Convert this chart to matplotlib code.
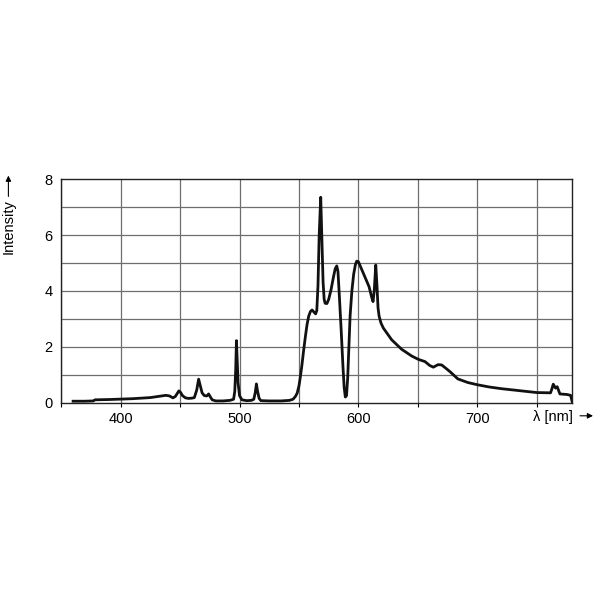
import numpy as np
import matplotlib.pyplot as plt

plt.rcParams['font.family'] = ['Liberation Sans', 'DejaVu Sans']

# spectrum (wavelength in nm, relative intensity)
wavelength = [360, 370, 377, 378.5, 390, 410, 425, 438, 441, 444, 446, 447.5, 449,
              450.5, 452, 454.5, 457, 460, 462, 464, 465.6, 467, 468.5, 470.4,
              472.5, 474, 475.5, 477, 480, 486, 492, 495, 496, 496.8, 497.4, 498,
              498.8, 500, 502, 506, 510, 512, 513.2, 514.2, 515.2, 516.5, 518, 525,
              535, 542, 545, 547, 548.5, 550, 551.2, 552.5, 554, 555.5, 556.8,
              558.2, 559.6, 561, 562.5, 564, 565, 566, 567, 568.3, 569.3, 570.3,
              571.2, 572, 573.5, 575, 577, 579, 580.5, 581.8, 582.8, 584, 585.5,
              587, 588, 589, 590, 591, 592, 593, 594.5, 596, 597.5, 598.6, 600,
              602, 606, 609, 611, 612.3, 613.3, 614.6, 615.6, 616.5, 617.4, 619,
              621, 628, 636.4, 644.8, 650.4, 656, 660, 663, 667, 670, 673, 677,
              683.6, 692, 700, 710, 720, 735, 750, 761.6, 762.8, 763.9, 765.8,
              767.2, 768.3, 769.5, 775.6, 778.5, 780]
intensity = [0.05, 0.05, 0.06, 0.1, 0.11, 0.14, 0.18, 0.26, 0.24, 0.17, 0.22, 0.32,
             0.42, 0.36, 0.25, 0.17, 0.15, 0.16, 0.18, 0.45, 0.84, 0.6, 0.35, 0.25,
             0.24, 0.31, 0.2, 0.1, 0.06, 0.06, 0.08, 0.12, 0.4, 1.2, 2.22, 1.6,
             0.7, 0.25, 0.1, 0.07, 0.08, 0.12, 0.35, 0.67, 0.4, 0.15, 0.07, 0.06,
             0.06, 0.08, 0.12, 0.22, 0.34, 0.6, 0.93, 1.35, 1.9, 2.4, 2.8, 3.1,
             3.26, 3.32, 3.25, 3.18, 3.3, 4.2, 6.0, 7.36, 5.8, 4.3, 3.7, 3.56,
             3.55, 3.7, 4.05, 4.5, 4.8, 4.9, 4.7, 3.8, 2.6, 1.3, 0.55, 0.2, 0.25,
             0.9, 2.0, 3.1, 4.0, 4.6, 4.95, 5.07, 5.05, 4.85, 4.45, 4.15, 3.8,
             3.62, 4.0, 4.93, 4.2, 3.4, 3.1, 2.85, 2.67, 2.25, 1.91, 1.67, 1.55,
             1.47, 1.33, 1.27, 1.36, 1.35, 1.25, 1.11, 0.85, 0.72, 0.64, 0.56,
             0.5, 0.43, 0.36, 0.35, 0.5, 0.66, 0.52, 0.57, 0.45, 0.31, 0.29, 0.26,
             0.0]

x_ticks = [400, 500, 600, 700]
x_grid = np.arange(350, 781, 50)
y_ticks = [0, 2, 4, 6, 8]

fig = plt.figure(figsize=(6, 6), dpi=100)
ax = fig.add_axes([0.102, 0.329, 0.852, 0.372])

ax.plot(wavelength, intensity, color='#111111', linewidth=2.0, zorder=3,
        solid_joinstyle='round')

ax.set_xlim(350, 780)
ax.set_ylim(0, 8)

# grid every 50 nm and every 1 unit
for gx in x_grid:
    ax.axvline(gx, color='#6e6e6e', linewidth=0.9, zorder=1)
for gy in range(1, 8):
    ax.axhline(gy, color='#6e6e6e', linewidth=0.9, zorder=1)

ax.set_xticks(x_grid)
ax.set_xticklabels([str(v) if v in x_ticks else '' for v in x_grid])
ax.set_yticks(y_ticks)
ax.tick_params(axis='x', direction='out', length=3, width=0.8, labelsize=10.5, pad=4)
ax.tick_params(axis='y', length=0, labelsize=10.5, pad=6)
for sp in ax.spines.values():
    sp.set_linewidth(1.0)
    sp.set_color('#222222')

# axis captions with arrows
fig.text(0.888, 0.305, 'λ [nm]', ha='left', va='center', fontsize=10.5)
fig.add_artist(plt.Annotation('', xy=(0.993, 0.307), xytext=(0.962, 0.307),
                              xycoords='figure fraction',
                              arrowprops=dict(arrowstyle='-|>', color='black',
                                              lw=0.8, mutation_scale=8)))
fig.text(0.014, 0.622, 'Intensity', rotation=90, ha='center', va='center', fontsize=10.5)
fig.add_artist(plt.Annotation('', xy=(0.014, 0.712), xytext=(0.014, 0.668),
                              xycoords='figure fraction',
                              arrowprops=dict(arrowstyle='-|>', color='black',
                                              lw=0.8, mutation_scale=8)))

fig.savefig('out.png', dpi=100)
